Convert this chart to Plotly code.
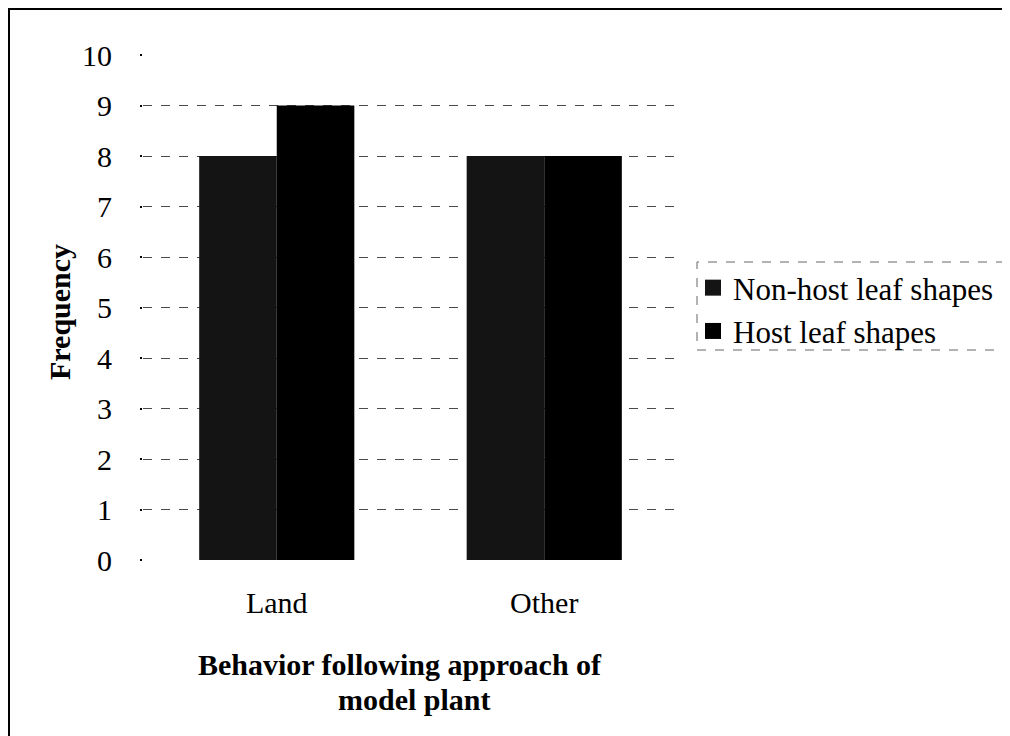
import plotly.graph_objects as go

categories = ["Land", "Other"]
nonhost_values = [8, 8]
host_values = [9, 8]
y_ticks = list(range(0, 11))

# screenshot has an 8px page margin; work in screenshot coordinates
OFF = 8
W, H = 1010 - OFF, 736 - OFF
L, R, T, B = 143 - OFF, 1010 - 678, 55 - OFF, 736 - 560
pw = W - L - R
ph = H - T - B

def px_x(x):
    return (x - OFF - L) / pw

def px_y(y):
    return (H - B - (y - OFF)) / ph

FONT = "Liberation Serif"

fig = go.Figure()
fig.add_trace(go.Bar(x=categories, y=nonhost_values, name="Non-host leaf shapes",
                     marker=dict(color="#141414", line=dict(width=0)),
                     showlegend=False))
fig.add_trace(go.Bar(x=categories, y=host_values, name="Host leaf shapes",
                     marker=dict(color="#000000", line=dict(width=0)),
                     showlegend=False))
# legend entries with larger square swatches
fig.add_trace(go.Scatter(x=[None], y=[None], mode="markers", name="Non-host leaf shapes",
                         marker=dict(symbol="square", size=16, color="#141414")))
fig.add_trace(go.Scatter(x=[None], y=[None], mode="markers", name="Host leaf shapes",
                         marker=dict(symbol="square", size=16, color="#000000")))

fig.update_layout(
    width=W, height=H,
    margin=dict(l=L, r=R, t=T, b=B),
    paper_bgcolor="white", plot_bgcolor="white",
    barmode="group", bargap=0.42, bargroupgap=0,
    font=dict(family=FONT, color="black", size=30),
    showlegend=True,
    legend=dict(x=px_x(693), y=px_y(261), xanchor="left", yanchor="top",
                font=dict(family=FONT, size=31, color="black"),
                bgcolor="rgba(0,0,0,0)", borderwidth=0,
                tracegroupgap=0, itemwidth=30),
    xaxis=dict(showgrid=False, showline=False, zeroline=False, ticks="",
               tickfont=dict(family=FONT, size=30), ticklabelstandoff=22),
    yaxis=dict(range=[0, 10], tickvals=y_ticks, showgrid=True,
               gridcolor="#4a4a4a", griddash="dash", gridwidth=1,
               zeroline=False, showline=False, ticks="outside", ticklen=2,
               tickcolor="black", tickwidth=2,
               tickfont=dict(family=FONT, size=30), ticklabelstandoff=22),
    annotations=[
        dict(text="<b>Frequency</b>", textangle=-90, x=px_x(59), y=px_y(312),
             xref="paper", yref="paper", showarrow=False,
             xanchor="center", yanchor="middle",
             font=dict(family=FONT, size=30, color="black")),
        dict(text="<b>Behavior following approach of</b>",
             x=px_x(400), y=px_y(664), xref="paper", yref="paper",
             showarrow=False, align="center", xanchor="center", yanchor="middle",
             font=dict(family=FONT, size=30, color="black")),
        dict(text="<b>model plant</b>",
             x=px_x(414), y=px_y(699), xref="paper", yref="paper",
             showarrow=False, align="center", xanchor="center", yanchor="middle",
             font=dict(family=FONT, size=30, color="black")),
    ],
    shapes=[
        dict(type="rect", xref="paper", yref="paper",
             x0=px_x(697), x1=px_x(1005), y0=px_y(350), y1=px_y(262),
             line=dict(color="#666666", width=1, dash="dash")),
        dict(type="line", xref="paper", yref="paper",
             x0=px_x(8), x1=px_x(1010), y0=px_y(9), y1=px_y(9),
             line=dict(color="black", width=2)),
        dict(type="line", xref="paper", yref="paper",
             x0=px_x(9), x1=px_x(9), y0=px_y(8), y1=px_y(736),
             line=dict(color="black", width=2)),
    ],
)

fig.write_html("out.html")
